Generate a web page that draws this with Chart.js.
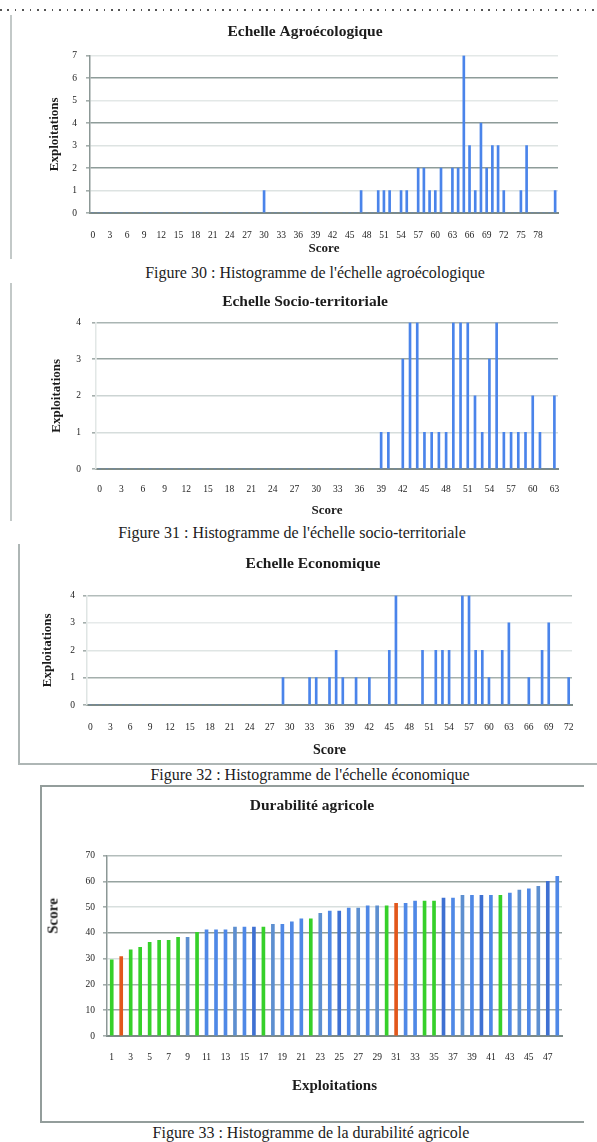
<!DOCTYPE html>
<html>
<head>
<meta charset="utf-8">
<script src="https://cdn.jsdelivr.net/npm/chart.js@4.4.0/dist/chart.umd.min.js"></script>
<style>
  html, body { margin: 0; padding: 0; background: #fff; }
  body { width: 597px; height: 1142px; position: relative; overflow: hidden;
         font-family: "Liberation Serif", "Times New Roman", serif; color: #1c1c1c; }
  canvas { position: absolute; }
  .rule { position: absolute; }
  .caption { position: absolute; white-space: nowrap; font-size: 16px; line-height: 18px;
             transform: translateX(-50%); color: #1c1c1c; }
  .ytitle { position: absolute; white-space: nowrap; font-weight: bold; font-size: 15px;
            transform: translate(-50%, -50%) rotate(-90deg); color: #1c1c1c; }
</style>
</head>
<body>
<div class="rule" style="left:0;top:9px;width:597px;height:1.5px;background:repeating-linear-gradient(90deg,#555 0 1.5px,transparent 1.5px 7.4px);"></div>

<!-- frame of the agro-ecological histogram -->
<div class="rule" style="left:10px;top:15px;width:1.5px;height:244px;background:#c3c9c8;"></div>
<canvas id="agro" width="584" height="248" style="left:13px;top:14px;"></canvas>
<div class="caption" style="left:315px;top:264px;">Figure 30 : Histogramme de l'échelle agroécologique</div>

<!-- frame of the socio-territorial histogram -->
<div class="rule" style="left:10px;top:283px;width:1.5px;height:238px;background:#c3c9c8;"></div>
<canvas id="socio" width="584" height="239" style="left:13px;top:283px;"></canvas>
<div class="caption" style="left:292px;top:524px;">Figure 31 :  Histogramme de l'échelle socio-territoriale</div>

<!-- frame of the economic histogram -->
<div class="rule" style="left:18px;top:544px;width:1.5px;height:220px;background:#aeb6b5;"></div>
<div class="rule" style="left:18px;top:763px;width:579px;height:1.5px;background:#aeb6b5;"></div>
<canvas id="eco" width="568" height="217" style="left:29px;top:545px;"></canvas>
<div class="caption" style="left:310px;top:766px;">Figure 32 : Histogramme de l'échelle économique</div>

<!-- frame of the durability bar chart -->
<div class="rule" style="left:40px;top:785px;width:544px;height:1.5px;background:#939d9b;"></div>
<div class="rule" style="left:40px;top:785px;width:1.5px;height:337px;background:#939d9b;"></div>
<div class="rule" style="left:40px;top:1121px;width:544px;height:1.5px;background:#939d9b;"></div>
<canvas id="dura" width="570" height="335" style="left:27px;top:786px;"></canvas>
<div class="ytitle" style="left:53px;top:916px;">Score</div>
<div class="caption" style="left:311px;top:1124px;">Figure 33 : Histogramme de la durabilité agricole</div>

<script>
// Échelle agroécologique: number of farms per score (scores 0–81)
const agroMaxScore = 81;
const agroScores = [30, 47, 50, 51, 52, 54, 55, 57, 58, 59, 60, 61, 63, 64, 65, 66, 67, 68, 69, 70, 71, 72, 75, 76, 81];
const agroCounts = [ 1,  1,  1,  1,  1,  1,  1,  2,  2,  1,  1,  2,  2,  2,  7,  3,  1,  4,  2,  3,  3,  1,  1,  3,  1];
const agroTickLabels = ['0','3','6','9','12','15','18','21','24','27','30','33','36','39','42','45','48','51','54','57',
                        '60','63','66','69','72','75','78'];

// Échelle socio-territoriale (scores 0–63)
const socioMaxScore = 63;
const socioScores = [39, 40, 42, 43, 44, 45, 46, 47, 48, 49, 50, 51, 52, 53, 54, 55, 56, 57, 58, 59, 60, 61, 63];
const socioCounts = [ 1,  1,  3,  4,  4,  1,  1,  1,  1,  4,  4,  4,  2,  1,  3,  4,  1,  1,  1,  1,  2,  1,  2];
const socioTickLabels = ['0','3','6','9','12','15','18','21','24','27','30','33','36','39','42','45','48','51','54','57',
                         '60','63'];

// Échelle économique (scores 0–72)
const ecoMaxScore = 72;
const ecoScores = [29, 33, 34, 36, 37, 38, 40, 42, 45, 46, 50, 52, 53, 54, 56, 57, 58, 59, 60, 62, 63, 66, 68, 69, 72];
const ecoCounts = [ 1,  1,  1,  1,  2,  1,  1,  1,  2,  4,  2,  2,  2,  2,  4,  4,  2,  2,  1,  2,  3,  1,  2,  3,  1];
const ecoTickLabels = ['0','3','6','9','12','15','18','21','24','27','30','33','36','39','42','45','48','51','54','57',
                       '60','63','66','69','72'];

// Durabilité agricole: one score per farm, sorted
const farmLabels = ['1','2','3','4','5','6','7','8','9','10','11','12','13','14','15','16','17','18','19','20','21','22','23','24',
                    '25','26','27','28','29','30','31','32','33','34','35','36','37','38','39','40','41','42','43','44','45','46','47','48'];
const farmScores = [29.6, 30.8, 33.4, 34.4, 36.3, 37.1, 37.1, 38.3, 38.3, 40.2, 41.2, 41.2, 41.2, 42.3, 42.3, 42.3,
                    42.3, 43.3, 43.3, 44.3, 45.5, 45.5, 47.6, 48.5, 48.5, 49.6, 49.6, 50.5, 50.5, 50.5, 51.5, 51.5,
                    52.4, 52.4, 52.4, 53.5, 53.5, 54.6, 54.6, 54.6, 54.6, 54.6, 55.5, 56.6, 57.1, 58.1, 60.0, 62.0];
const farmTickLabels = ['1','3','5','7','9','11','13','15','17','19','21','23','25','27','29','31','33','35','37','39',
                        '41','43','45','47'];
// colour key of each farm bar: G green, O orange, B blue, S steel blue, D dark blue
const farmColourKeys = ['G','O','G','G','G','G','G','G','S','G','B','B','B','S','B','D','G','S','B','B','B','G','S','B',
                        'D','B','S','B','S','G','O','B','B','G','G','D','B','S','B','D','B','G','B','S','B','S','D','B'];

const SERIF = '"Liberation Serif", "Times New Roman", serif';
const TEXT = '#1c1c1c';
const BAR_BLUE = '#4a84ea';
const PALETTE = { G: '#36d02a', O: '#e2571b', B: '#4f88e6', S: '#5d8fd0', D: '#3e70d2' };

function countsByScore(maxScore, scores, counts) {
  const labels = [], values = [];
  for (let s = 0; s <= maxScore; s++) {
    labels.push(String(s));
    const i = scores.indexOf(s);
    values.push(i >= 0 ? counts[i] : 0);
  }
  return { labels, values };
}

function buildChart(id, o) {
  return new Chart(document.getElementById(id), {
    type: 'bar',
    data: {
      labels: o.labels,
      datasets: [{
        data: o.values,
        backgroundColor: o.colours,
        borderWidth: 0,
        barThickness: o.barWidth,
        categoryPercentage: 1,
        barPercentage: 1
      }]
    },
    options: {
      responsive: false,
      animation: false,
      layout: { padding: 0 },
      plugins: {
        legend: { display: false },
        tooltip: { enabled: false },
        title: {
          display: true, text: o.title, color: TEXT,
          font: { family: SERIF, size: 15.5, weight: 'bold', lineHeight: 1.2 },
          padding: { top: o.titleTop, bottom: o.titleBottom }
        }
      },
      scales: {
        x: {
          offset: true,
          grid: { display: false, drawTicks: false },
          border: { display: true, color: '#7d8a87', width: 2 },
          ticks: {
            autoSkip: false, maxRotation: 0, minRotation: 0, padding: o.xTickPad,
            color: TEXT, font: { family: SERIF, size: 9.5 },
            callback: function (v) {
              const label = this.getLabelForValue(v);
              return o.tickLabels.includes(label) ? label : '';
            }
          },
          title: {
            display: true, text: o.xTitle, color: TEXT,
            font: { family: SERIF, size: o.xTitleSize, weight: 'bold', lineHeight: 1.2 },
            padding: { top: 0, bottom: o.xTitlePad }
          },
          afterFit: s => { s.height = o.xHeight; }
        },
        y: {
          min: 0, max: o.yMax,
          grid: {
            color: c => o.gridColours[c.index] || '#cfd6d5',
            lineWidth: 1.6, drawTicks: true, tickLength: 4, tickColor: '#a4aeac'
          },
          border: { display: true, color: o.yAxisColour, width: 1.5 },
          ticks: { stepSize: o.yStep, padding: o.yTickPad, color: TEXT, font: { family: SERIF, size: 9.5 } },
          title: {
            display: !!o.yTitle, text: o.yTitle, color: TEXT,
            font: { family: SERIF, size: 13, weight: 'bold', lineHeight: 1.2 },
            padding: { top: o.yTitlePad, bottom: 0 }
          },
          afterFit: s => { s.width = o.yWidth; }
        },
        // empty right-hand axis that reserves the margin right of the plot
        spare: {
          type: 'linear', position: 'right', display: true,
          grid: { display: false }, border: { display: false }, ticks: { display: false },
          afterFit: s => { s.width = o.rightWidth; }
        }
      }
    }
  });
}

const agro = countsByScore(agroMaxScore, agroScores, agroCounts);
buildChart('agro', {
  labels: agro.labels, values: agro.values, colours: BAR_BLUE, barWidth: 2, tickLabels: agroTickLabels,
  title: 'Echelle Agroécologique', titleTop: 9, titleBottom: 14,
  xTitle: 'Score', xTitleSize: 13, xTitlePad: 6, xTickPad: 17, xHeight: 49,
  yMax: 7, yStep: 1, yTitle: 'Exploitations', yTitlePad: 34, yTickPad: 9, yWidth: 77, rightWidth: 39,
  yAxisColour: '#8c9896',
  gridColours: ['#7d8a87', '#dde3e2', '#8e9c99', '#dde3e2', '#8e9c99', '#e3e8e7', '#8e9c99', '#e3e8e7']
});

const socio = countsByScore(socioMaxScore, socioScores, socioCounts);
buildChart('socio', {
  labels: socio.labels, values: socio.values, colours: BAR_BLUE, barWidth: 2, tickLabels: socioTickLabels,
  title: 'Echelle Socio-territoriale', titleTop: 10, titleBottom: 11,
  xTitle: 'Score', xTitleSize: 13, xTitlePad: 4, xTickPad: 15, xHeight: 53,
  yMax: 4, yStep: 1, yTitle: 'Exploitations', yTitlePad: 36, yTickPad: 11, yWidth: 83, rightWidth: 39,
  yAxisColour: '#e2e7e6',
  gridColours: ['#7d8a87', '#d6dddc', '#ccd4d3', '#97a4a1', '#aab5b3']
});

const eco = countsByScore(ecoMaxScore, ecoScores, ecoCounts);
buildChart('eco', {
  labels: eco.labels, values: eco.values, colours: BAR_BLUE, barWidth: 2, tickLabels: ecoTickLabels,
  title: 'Echelle Economique', titleTop: 10, titleBottom: 22,
  xTitle: 'Score', xTitleSize: 14, xTitlePad: 3, xTickPad: 17, xHeight: 57,
  yMax: 4, yStep: 1, yTitle: 'Exploitations', yTitlePad: 11, yTickPad: 8, yWidth: 58, rightWidth: 25,
  yAxisColour: '#dfe5e4',
  gridColours: ['#7d8a87', '#a4afac', '#dfe5e4', '#e6eaea', '#b3bdbb']
});

buildChart('dura', {
  labels: farmLabels, values: farmScores, colours: farmColourKeys.map(k => PALETTE[k]), barWidth: 3,
  tickLabels: farmTickLabels,
  title: 'Durabilité agricole', titleTop: 11, titleBottom: 40,
  xTitle: 'Exploitations', xTitleSize: 15, xTitlePad: 26, xTickPad: 16, xHeight: 85,
  yMax: 70, yStep: 10, yTitle: '', yTitlePad: 0, yTickPad: 8, yWidth: 80, rightWidth: 35,
  yAxisColour: '#8c9896',
  gridColours: ['#7d8a87', '#9ba7a5', '#a7b1af', '#d8dfde', '#8f9c99', '#d8dfde', '#96a3a0', '#b3bdbb']
});
</script>
</body>
</html>
